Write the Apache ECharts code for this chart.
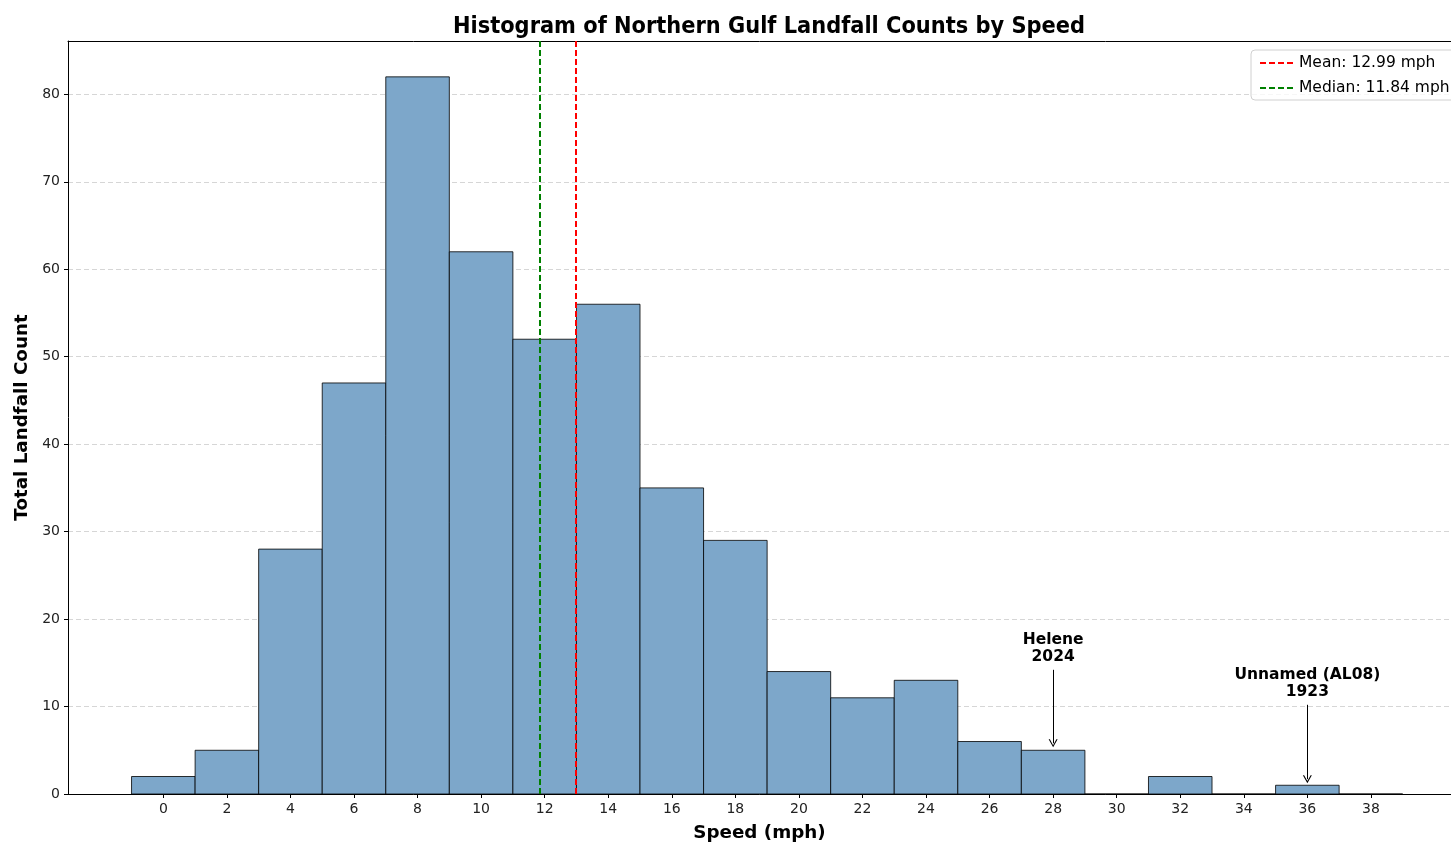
<!DOCTYPE html>
<html>
<head>
<meta charset="utf-8">
<script src="https://cdn.jsdelivr.net/npm/echarts@6/dist/echarts.min.js"></script>
<style>
html, body { margin: 0; padding: 0; background: #fff; }
#chart { width: 1451px; height: 843px; }
</style>
</head>
<body>
<div id="chart"></div>
<script>
// bin centres (mph) and landfall counts per 2 mph bin
var binCenters = [0, 2, 4, 6, 8, 10, 12, 14, 16, 18, 20, 22, 24, 26, 28, 30, 32, 34, 36, 38];
var counts = [2, 5, 28, 47, 82, 62, 52, 56, 35, 29, 14, 11, 13, 6, 5, 0, 2, 0, 1, 0];
var xTicks = [0, 2, 4, 6, 8, 10, 12, 14, 16, 18, 20, 22, 24, 26, 28, 30, 32, 34, 36, 38];
var meanSpeed = 12.99;
var medianSpeed = 11.84;
var annotations = [
    {name: 'Helene\n2024', x: 28, textY: 16.6, fromY: 14.2, toY: 5.8},
    {name: 'Unnamed (AL08)\n1923', x: 36, textY: 12.6, fromY: 10.2, toY: 1.7}
];
var binWidth = 2;

var font = 'DejaVu Sans';
var myChart = echarts.init(document.getElementById('chart'));

var histData = binCenters.map(function (c, i) { return [c, counts[i]]; });

var arrowLines = annotations.map(function (a) {
    return [
        {coord: [a.x, a.fromY], symbol: 'none'},
        {coord: [a.x, a.toY], symbol: 'path://M5,0 L10,10 L8.6,10 L5,2.6 L1.4,10 L0,10 Z', symbolSize: [9, 8]}
    ];
});
var annoPoints = annotations.map(function (a) {
    return {coord: [a.x, a.textY], value: a.name};
});

var legendLine = function (c) {
    return {color: c, type: [6, 3], width: 2};
};

option = {
    animation: false,
    title: {
        text: 'Histogram of Northern Gulf Landfall Counts by Speed',
        left: 764,
        top: 10,
        textAlign: 'center',
        textStyle: {
            fontFamily: 'DejaVu Sans Condensed',
            fontWeight: 'bold',
            fontSize: 23.3,
            color: '#000'
        }
    },
    legend: {
        left: 1251,
        top: 50,
        orient: 'vertical',
        itemWidth: 34,
        itemHeight: 14,
        itemGap: 9,
        padding: [5, 30, 4, 8],
        backgroundColor: 'rgba(255,255,255,0.8)',
        borderColor: '#d0d0d0',
        borderWidth: 1,
        borderRadius: 4,
        itemStyle: {opacity: 0},
        textStyle: {fontFamily: font, fontSize: 15.5, color: '#000'},
        data: [
            {name: 'Mean: 12.99 mph', lineStyle: legendLine('#ff0000')},
            {name: 'Median: 11.84 mph', lineStyle: legendLine('#008000')}
        ]
    },
    grid: {
        left: 68,
        top: 41,
        bottom: 49,
        right: 0,
        show: false,
        containLabel: false,
        outerBoundsMode: 'none'
    },
    xAxis: [{
        type: 'value',
        min: -3,
        max: 40.52,
        name: 'Speed (mph)',
        nameLocation: 'middle',
        nameGap: 30,
        nameTextStyle: {fontFamily: font, fontWeight: 'bold', fontSize: 18.3, color: '#000'},
        axisLine: {onZero: false, lineStyle: {color: '#000'}},
        axisTick: {show: true, length: 4, lineStyle: {color: '#000'}, customValues: xTicks},
        axisLabel: {fontFamily: font, fontSize: 14, color: '#222', margin: 8, customValues: xTicks},
        splitLine: {show: false}
    }, {
        type: 'value',
        position: 'top',
        min: -3,
        max: 40.52,
        axisLine: {show: true, onZero: false, lineStyle: {color: '#000'}},
        axisTick: {show: false},
        axisLabel: {show: false},
        splitLine: {show: false}
    }],
    yAxis: {
        type: 'value',
        min: 0,
        max: 86.1,
        interval: 10,
        name: 'Total Landfall Count',
        nameLocation: 'middle',
        nameGap: 35,
        nameTextStyle: {fontFamily: font, fontWeight: 'bold', fontSize: 18.3, color: '#000'},
        axisLine: {show: true, onZero: false, lineStyle: {color: '#000'}},
        axisTick: {show: true, length: 4, lineStyle: {color: '#000'}},
        axisLabel: {
            fontFamily: font, fontSize: 14, color: '#222', margin: 8,
            showMaxLabel: false
        },
        splitLine: {show: true, lineStyle: {color: '#cccccc', type: [5, 3], width: 0.8}}
    },
    series: [
        {
            name: 'counts',
            type: 'custom',
            data: histData,
            renderItem: function (params, api) {
                var c = api.value(0), v = api.value(1);
                var p0 = api.coord([c - binWidth / 2, v]);
                var p1 = api.coord([c + binWidth / 2, 0]);
                return {
                    type: 'rect',
                    shape: {x: p0[0], y: p0[1], width: p1[0] - p0[0], height: p1[1] - p0[1]},
                    style: {fill: '#7da7ca', stroke: 'rgba(0,0,0,0.8)', lineWidth: 1}
                };
            },
            z: 2,
            markLine: {
                silent: true,
                z: 5,
                lineStyle: {color: '#000', type: 'solid', width: 1},
                label: {show: false},
                data: arrowLines
            },
            markPoint: {
                silent: true,
                symbol: 'rect',
                symbolSize: 1,
                itemStyle: {color: 'rgba(0,0,0,0)'},
                label: {
                    show: true,
                    position: 'inside',
                    formatter: '{c}',
                    fontFamily: font,
                    fontWeight: 'bold',
                    fontSize: 15.5,
                    lineHeight: 17,
                    color: '#000',
                    align: 'center'
                },
                data: annoPoints
            }
        },
        {
            name: 'Mean: 12.99 mph',
            type: 'line',
            data: [],
            color: '#ff0000',
            symbol: 'none',
            lineStyle: {color: '#ff0000', type: [6, 3], width: 2},
            markLine: {
                silent: true,
                symbol: 'none',
                label: {show: false},
                lineStyle: {color: '#ff0000', type: [6, 3], width: 2},
                data: [{xAxis: meanSpeed}]
            },
            z: 4
        },
        {
            name: 'Median: 11.84 mph',
            type: 'line',
            data: [],
            color: '#008000',
            symbol: 'none',
            lineStyle: {color: '#008000', type: [6, 3], width: 2},
            markLine: {
                silent: true,
                symbol: 'none',
                label: {show: false},
                lineStyle: {color: '#008000', type: [6, 3], width: 2},
                data: [{xAxis: medianSpeed}]
            },
            z: 4
        }
    ]
};
myChart.setOption(option);
</script>
</body>
</html>
